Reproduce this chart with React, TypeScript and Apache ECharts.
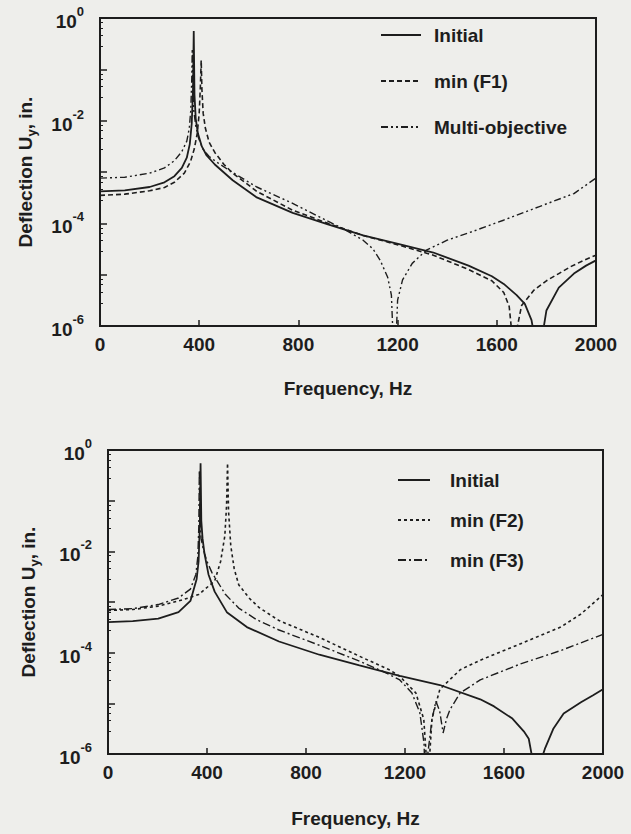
import React, { useEffect, useRef } from 'react';
import * as echarts from 'echarts';

// ---------- axis ticks ----------
const xTickValues = [0, 400, 800, 1200, 1600, 2000];
const yLabelExponents = [0, -2, -4, -6];

// ---------- top chart ----------
const initialTopHz = [0, 100, 200, 260, 300, 330, 350, 362, 370, 375, 378, 381, 386, 395, 410, 430, 463, 535, 632, 777, 919, 1061, 1202, 1344, 1486, 1580, 1628, 1680, 1713, 1740, 1755, 1765, 1780, 1800, 1850, 1911, 1960, 2000];
const initialTopUy = [4.2e-4, 4.4e-4, 5.1e-4, 6.3e-4, 8.3e-4, 1.2e-3, 1.9e-3, 3.5e-3, 8.9e-3, 4.0e-2, 0.56, 3.2e-2, 1.1e-2, 5.6e-3, 3.2e-3, 2.1e-3, 1.4e-3, 6.9e-4, 3.2e-4, 1.6e-4, 9.5e-5, 5.8e-5, 4.0e-5, 2.7e-5, 1.5e-5, 9.3e-6, 6.6e-6, 4.0e-6, 2.7e-6, 1.3e-6, 5.0e-7, 1e-7, 5.0e-7, 2.0e-6, 5.6e-6, 1.05e-5, 1.5e-5, 1.9e-5];

const minF1Hz = [0, 100, 200, 260, 300, 340, 365, 380, 392, 400, 405, 408, 411, 416, 425, 440, 463, 500, 535, 632, 777, 919, 1061, 1202, 1344, 1486, 1580, 1628, 1650, 1662, 1668, 1675, 1700, 1750, 1800, 1850, 1900, 1950, 2000];
const minF1Uy = [3.5e-4, 3.7e-4, 4.3e-4, 5.0e-4, 6.3e-4, 9.5e-4, 1.6e-3, 2.8e-3, 5.6e-3, 1.4e-2, 5.0e-2, 0.15, 4.0e-2, 1.4e-2, 7.1e-3, 3.8e-3, 2.4e-3, 1.4e-3, 9.5e-4, 4.2e-4, 1.8e-4, 1.0e-4, 5.8e-5, 3.8e-5, 2.4e-5, 1.26e-5, 7.6e-6, 4.5e-6, 2.4e-6, 6.3e-7, 1e-7, 6.3e-7, 2.5e-6, 5.0e-6, 7.6e-6, 1.05e-5, 1.45e-5, 1.9e-5, 2.4e-5];

const multiHz = [0, 100, 200, 260, 300, 330, 350, 360, 366, 370, 372, 374, 378, 386, 398, 415, 440, 480, 518, 632, 773, 919, 980, 1061, 1100, 1130, 1160, 1175, 1188, 1200, 1220, 1259, 1316, 1400, 1486, 1627, 1769, 1911, 2000];
const multiUy = [7.6e-4, 7.9e-4, 9.5e-4, 1.2e-3, 1.66e-3, 2.5e-3, 4.0e-3, 7.1e-3, 1.6e-2, 6.3e-2, 0.25, 5.0e-2, 1.6e-2, 7.9e-3, 4.5e-3, 2.8e-3, 2.0e-3, 1.45e-3, 1.1e-3, 5.1e-4, 2.5e-4, 1.1e-4, 7.9e-5, 4.7e-5, 3.2e-5, 1.9e-5, 8.9e-6, 4.0e-6, 1e-7, 3.2e-6, 7.9e-6, 1.66e-5, 3.0e-5, 4.7e-5, 6.5e-5, 1.15e-4, 2.1e-4, 3.8e-4, 7.6e-4];

// ---------- bottom chart ----------
const initialBotHz = [0, 100, 203, 285, 333, 358, 366, 371, 374, 377, 382, 390, 406, 431, 480, 561, 691, 854, 1016, 1179, 1341, 1504, 1560, 1634, 1680, 1700, 1715, 1725, 1735, 1745, 1765, 1800, 1841, 1911, 1960, 2000];
const initialBotUy = [4.0e-4, 4.2e-4, 4.7e-4, 6.3e-4, 1.05e-3, 2.8e-3, 6.3e-3, 3.2e-2, 0.55, 4.0e-2, 1.8e-2, 8.9e-3, 3.5e-3, 1.6e-3, 6.3e-4, 3.2e-4, 1.66e-4, 9.1e-5, 5.6e-5, 3.5e-5, 2.3e-5, 1.2e-5, 8.7e-6, 5.0e-6, 2.8e-6, 2.0e-6, 8.0e-7, 1e-7, 4.0e-7, 6.3e-7, 1.26e-6, 3.2e-6, 6.3e-6, 1.05e-5, 1.45e-5, 1.9e-5];

const minF2Hz = [0, 100, 203, 300, 366, 431, 455, 472, 479, 483, 487, 496, 510, 528, 570, 610, 691, 854, 1016, 1140, 1179, 1244, 1276, 1288, 1293, 1300, 1309, 1341, 1423, 1504, 1667, 1829, 1911, 2000];
const minF2Uy = [6.8e-4, 7.1e-4, 8.3e-4, 1.1e-3, 1.4e-3, 2.6e-3, 6.3e-3, 2.0e-2, 7.9e-2, 0.55, 6.3e-2, 1.3e-2, 4.5e-3, 2.2e-3, 1.2e-3, 7.8e-4, 4.3e-4, 2.0e-4, 8.5e-5, 4.5e-5, 3.4e-5, 1.6e-5, 4.8e-6, 6.3e-7, 1e-7, 1e-6, 5.0e-6, 1.9e-5, 4.6e-5, 7.1e-5, 1.5e-4, 3.2e-4, 5.8e-4, 1.4e-3];

const minF3Hz = [0, 100, 203, 285, 333, 355, 363, 367, 369, 371, 376, 385, 400, 420, 445, 475, 528, 600, 691, 854, 1016, 1114, 1179, 1228, 1260, 1277, 1284, 1292, 1309, 1325, 1340, 1354, 1368, 1382, 1423, 1504, 1667, 1829, 2000];
const minF3Uy = [7.1e-4, 7.4e-4, 8.9e-4, 1.2e-3, 1.8e-3, 3.5e-3, 7.9e-3, 3.2e-2, 0.4, 4.0e-2, 1.8e-2, 1.1e-2, 6.3e-3, 3.8e-3, 2.4e-3, 1.4e-3, 7.6e-4, 4.5e-4, 2.8e-4, 1.4e-4, 6.8e-5, 4.2e-5, 2.9e-5, 1.6e-5, 6.5e-6, 1.6e-6, 1e-7, 1e-6, 4.8e-6, 1.1e-5, 7.1e-6, 2.6e-6, 5.0e-6, 7.6e-6, 1.6e-5, 2.9e-5, 6.0e-5, 1.1e-4, 2.3e-4];

const topLegend = ['Initial', 'min (F1)', 'Multi-objective'];
const bottomLegend = ['Initial', 'min (F2)', 'min (F3)'];

// ---------- styling ----------
const FONT = "'Liberation Sans', Arial, Helvetica, sans-serif";
const INK = '#1d1d1d';
const BG = '#eeeeeb';
const FS = 19;

const pairs = (xs: number[], ys: number[]) => xs.map((x, i) => [x, ys[i]]);

const yLabelFormatter = (v: number) => {
  const e = Math.round(Math.log10(v));
  return yLabelExponents.includes(e) ? `{b|10}{s|${e}}` : '';
};

const txt = { fontFamily: FONT, fontWeight: 'bold' as const, color: INK };

const makeX = (gridIndex: number, nameGap: number) => ({
  type: 'value',
  gridIndex,
  min: xTickValues[0],
  max: xTickValues[xTickValues.length - 1],
  interval: 400,
  name: 'Frequency, Hz',
  nameLocation: 'middle',
  nameGap,
  nameTextStyle: { ...txt, fontSize: FS },
  axisLine: { show: true, onZero: false, lineStyle: { color: INK, width: 2 } },
  axisTick: { show: true, inside: true, length: 6, lineStyle: { color: INK, width: 1.5 } },
  splitLine: { show: false },
  axisLabel: { ...txt, fontSize: FS, margin: 9, formatter: (v: number) => String(v) },
});

const makeY = (gridIndex: number, nameGap: number) => ({
  type: 'log',
  logBase: 10,
  gridIndex,
  min: 1e-6,
  max: 1,
  name: '{n|Deflection U}{sub|y}{n|, in.}',
  nameLocation: 'middle',
  nameRotate: 90,
  nameGap,
  nameTextStyle: {
    rich: {
      n: { ...txt, fontSize: FS, lineHeight: 22, verticalAlign: 'top' },
      sub: { ...txt, fontSize: 13, lineHeight: 22, verticalAlign: 'bottom' },
    },
  },
  axisLine: { show: true, onZero: false, lineStyle: { color: INK, width: 2 } },
  axisTick: { show: true, inside: true, length: 7, lineStyle: { color: INK, width: 1.5 } },
  minorTick: { show: true, splitNumber: 5, length: 3, lineStyle: { color: INK, width: 1 } },
  splitLine: { show: false },
  axisLabel: {
    formatter: yLabelFormatter,
    margin: 16,
    rich: {
      b: { ...txt, fontSize: FS, lineHeight: 26, verticalAlign: 'bottom' },
      s: { ...txt, fontSize: 13, lineHeight: 26, verticalAlign: 'top' },
    },
  },
});

const line = (name: string, xs: number[], ys: number[], idx: number, type: any, width: number, z: number) => ({
  name,
  type: 'line',
  xAxisIndex: idx,
  yAxisIndex: idx,
  data: pairs(xs, ys),
  symbol: 'none',
  showSymbol: false,
  clip: true,
  z,
  lineStyle: { color: INK, width, type },
  itemStyle: { color: INK },
  emphasis: { disabled: true },
});

const legendBase = {
  orient: 'vertical',
  itemHeight: 14,
  selectedMode: false,
  itemStyle: { color: 'transparent', borderColor: 'transparent', borderWidth: 0, opacity: 0 },
};

const option: any = {
  animation: false,
  backgroundColor: BG,
  grid: [
    { left: 100, top: 18, width: 496, height: 308, show: true, borderColor: INK, borderWidth: 2, backgroundColor: 'transparent' },
    { left: 108, top: 450, width: 495, height: 304, show: true, borderColor: INK, borderWidth: 2, backgroundColor: 'transparent' },
  ],
  xAxis: [makeX(0, 53), makeX(1, 55)],
  yAxis: [makeY(0, 62), makeY(1, 67)],
  legend: [
    {
      ...legendBase,
      left: 375,
      top: 20,
      itemWidth: 40,
      itemGap: 26,
      data: topLegend,
      textStyle: { ...txt, fontSize: FS, lineHeight: 20, padding: [0, 0, 0, 8] },
    },
    {
      ...legendBase,
      left: 392,
      top: 465,
      itemWidth: 32,
      itemGap: 20,
      data: bottomLegend,
      textStyle: { ...txt, fontSize: FS, lineHeight: 20, padding: [0, 0, 0, 15] },
    },
  ],
  series: [
    line('Multi-objective', multiHz, multiUy, 0, [7, 3, 2, 3, 2, 3], 1.4, 2),
    line('min (F1)', minF1Hz, minF1Uy, 0, [5, 3], 1.6, 3),
    line('Initial', initialTopHz, initialTopUy, 0, 'solid', 1.8, 4),
    line('min (F3)', minF3Hz, minF3Uy, 1, [8, 3, 2, 3], 1.4, 2),
    line('min (F2)', minF2Hz, minF2Uy, 1, [3, 3], 1.6, 3),
    line('Initial', initialBotHz, initialBotUy, 1, 'solid', 1.8, 4),
  ],
};

export default function App() {
  const ref = useRef<HTMLDivElement>(null);
  useEffect(() => {
    if (!ref.current) return;
    const chart = echarts.init(ref.current, null, { renderer: 'svg' });
    chart.setOption(option);
    return () => chart.dispose();
  }, []);
  return (
    <div
      ref={ref}
      style={{ position: 'fixed', left: 0, top: 0, width: 631, height: 834, background: BG }}
    />
  );
}
